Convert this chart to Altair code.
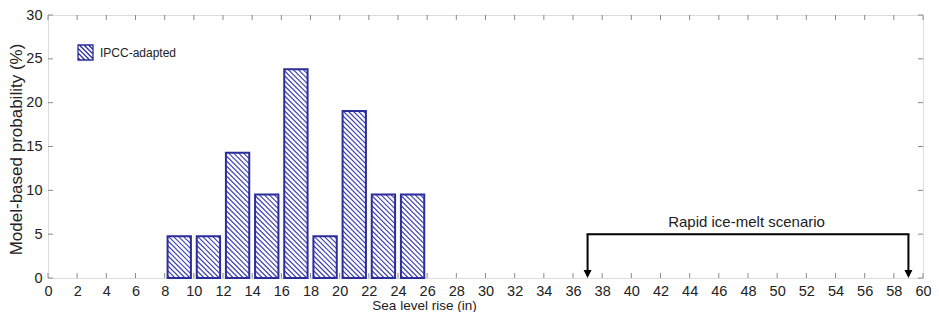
import altair as alt
import pandas as pd

# ---------------- data ----------------
bin_centers = [9, 11, 13, 15, 17, 19, 21, 23, 25]
probabilities = [4.76, 4.76, 14.29, 9.52, 23.81, 4.76, 19.05, 9.52, 9.52]
series_name = "IPCC-adapted"
x_ticks = list(range(0, 61, 2))
y_ticks = list(range(0, 31, 5))
scenario_x = [37, 59]
scenario_y = 5
scenario_label = "Rapid ice-melt scenario"

# ---------------- style ----------------
W, H = 875, 263
X_DOMAIN = [0, 60]
Y_DOMAIN = [0, 30]
BAR_WIDTH = 1.6
HATCH_STEP = 5.0  # px, horizontal spacing of hatch lines
BLUE = "#2b2d9b"
HATCH_BLUE = "#3a3db0"
FONT = "Liberation Sans"
TXT = "#222222"

kx = W / (X_DOMAIN[1] - X_DOMAIN[0])
ky = H / (Y_DOMAIN[1] - Y_DOMAIN[0])

bars = pd.DataFrame({
    "x0": [c - BAR_WIDTH / 2 for c in bin_centers],
    "x1": [c + BAR_WIDTH / 2 for c in bin_centers],
    "y0": [0.0] * len(bin_centers),
    "y1": probabilities,
    "series": [series_name] * len(bin_centers),
})

# hatch segments clipped to each bar ("\\" direction)
hrows = []
for c, p in zip(bin_centers, probabilities):
    x0 = c - BAR_WIDTH / 2
    bw = BAR_WIDTH * kx
    bh = p * ky
    k = HATCH_STEP / 2
    while k < bw + bh:
        xa = max(0.0, k - bh)
        xb = min(bw, k)
        hrows.append({"x": x0 + xa / kx, "y": (k - xa) / ky,
                      "x2": x0 + xb / kx, "y2": (k - xb) / ky})
        k += HATCH_STEP
hatch = pd.DataFrame(hrows)

# legend symbol: square with hatch lines (unit box -1..1)
parts = ["M-1,-1H1V1H-1Z"]
step = 0.62
cc = -2 + step / 2
while cc < 2:
    if cc >= 0:
        parts.append(f"M{cc-1:.3f},-1L1,{1-cc:.3f}")
    else:
        parts.append(f"M-1,{-1-cc:.3f}L{1+cc:.3f},1")
    cc += step
legend_path = " ".join(parts)

xs = alt.Scale(domain=X_DOMAIN, nice=False, zero=False)
ys = alt.Scale(domain=Y_DOMAIN, nice=False, zero=False)

x_axis = alt.Axis(values=x_ticks, title="Sea level rise (in)", grid=False,
                  domain=False, ticks=False, tickSize=0, labelPadding=6,
                  labelFontSize=14.5, labelFont=FONT, labelColor=TXT,
                  titleFont=FONT, titleFontSize=13.5, titleFontWeight="normal",
                  titleColor=TXT, titleX=376, titleY=31, titleAlign="center",
                  titleBaseline="alphabetic", labelFlush=False)
y_axis = alt.Axis(values=y_ticks, title="Model-based probability (%)", grid=False,
                  domain=False, ticks=False, tickSize=0, labelPadding=6,
                  labelFontSize=14.5, labelFont=FONT, labelColor=TXT,
                  titleFont=FONT, titleFontSize=17, titleFontWeight="normal",
                  titleColor=TXT, titleX=-31.5, titleY=134, titleAngle=270,
                  titleAlign="center", titleBaseline="middle", labelFlush=False)

X = lambda f: alt.X(f, type="quantitative", scale=xs, axis=x_axis)
Y = lambda f: alt.Y(f, type="quantitative", scale=ys, axis=y_axis)

bar_fill = alt.Chart(bars).mark_rect(fill="white", stroke=None).encode(
    x=X("x0"), x2="x1", y=Y("y0"), y2="y1")

hatch_layer = alt.Chart(hatch).mark_rule(color=HATCH_BLUE, strokeWidth=1.1).encode(
    x=X("x"), x2="x2", y=Y("y"), y2="y2")

bar_outline = alt.Chart(bars).mark_rect(filled=False, strokeWidth=2).encode(
    x=X("x0"), x2="x1", y=Y("y0"), y2="y1",
    stroke=alt.Stroke("series:N",
                      scale=alt.Scale(domain=[series_name], range=[BLUE]),
                      legend=alt.Legend(title=None, orient="none", legendX=29, legendY=29,
                                        padding=0, symbolType=legend_path, symbolSize=225,
                                        symbolStrokeWidth=1.3, symbolFillColor="white",
                                        labelFont=FONT, labelFontSize=12, labelColor=TXT,
                                        labelOffset=6)))

xt = pd.DataFrame({"t": x_ticks})
yt = pd.DataFrame({"t": y_ticks})
TICK = 5
tick_col = "#8a8a8a"
bottom_ticks = alt.Chart(xt).mark_rule(color=tick_col, strokeWidth=1).encode(
    x=X("t"), y=alt.value(H), y2=alt.value(H - TICK))
top_ticks = alt.Chart(xt).mark_rule(color=tick_col, strokeWidth=1).encode(
    x=X("t"), y=alt.value(0), y2=alt.value(TICK))
left_ticks = alt.Chart(yt).mark_rule(color=tick_col, strokeWidth=1).encode(
    y=Y("t"), x=alt.value(0), x2=alt.value(TICK))
right_ticks = alt.Chart(yt).mark_rule(color=tick_col, strokeWidth=1).encode(
    y=Y("t"), x=alt.value(W - TICK), x2=alt.value(W))

horiz = pd.DataFrame({"x": [scenario_x[0]], "x2": [scenario_x[1]], "y": [scenario_y]})
verts = pd.DataFrame({"x": scenario_x, "y": [scenario_y] * 2, "y2": [0] * 2})
heads = pd.DataFrame({"x": scenario_x, "y": [0] * 2})
label = pd.DataFrame({"x": [(scenario_x[0] + scenario_x[1]) / 2 - 0.1], "y": [scenario_y],
                      "text": [scenario_label]})

h_rule = alt.Chart(horiz).mark_rule(color="black", strokeWidth=2, strokeCap="square").encode(
    x=X("x"), x2="x2", y=Y("y"))
v_rule = alt.Chart(verts).mark_rule(color="black", strokeWidth=2, y2Offset=-6).encode(
    x=X("x"), y=Y("y"), y2="y2")
arrow = alt.Chart(heads).mark_point(shape="M-0.5,-1L0.5,-1L0,0Z", size=256, filled=True,
                                    color="black", opacity=1, strokeWidth=0).encode(
    x=X("x"), y=Y("y"))
text = alt.Chart(label).mark_text(font=FONT, fontSize=15, color=TXT, dy=-7,
                                  baseline="alphabetic", align="center").encode(
    x=X("x"), y=Y("y"), text="text:N")

chart = alt.layer(bar_fill, hatch_layer, bar_outline, bottom_ticks, top_ticks,
                  left_ticks, right_ticks, h_rule, v_rule, arrow, text).properties(
    width=W, height=H,
    autosize=alt.AutoSizeParams(type="none"),
    padding={"left": 40, "top": 7, "right": 8, "bottom": 34},
).configure_view(stroke="#2a2a2a", strokeWidth=1.3).configure(background="white")

chart.save("out.html", embed_options={"renderer": "svg", "actions": False})
